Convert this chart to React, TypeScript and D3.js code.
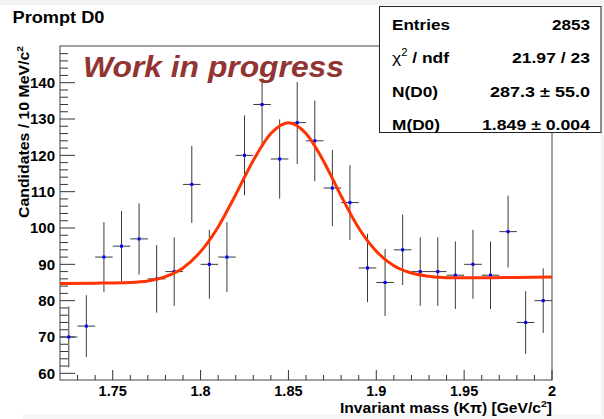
import React from "react";
import * as d3 from "d3";

// histogram bins (bin centres, 10 MeV wide)
const binCenters = [
  1.725, 1.735, 1.745, 1.755, 1.765, 1.775, 1.785, 1.795, 1.805, 1.815,
  1.825, 1.835, 1.845, 1.855, 1.865, 1.875, 1.885, 1.895, 1.905, 1.915,
  1.925, 1.935, 1.945, 1.955, 1.965, 1.975, 1.985, 1.995,
];
const counts = [
  70, 73, 92, 95, 97, 86, 88, 112, 90, 92,
  120, 134, 119, 129, 124, 111, 107, 89, 85, 94,
  88, 88, 87, 90, 87, 99, 74, 80,
];
const errors = [
  8.4, 8.5, 9.6, 9.7, 9.8, 9.3, 9.4, 10.6, 9.5, 9.6,
  11.0, 11.6, 10.9, 11.4, 11.1, 10.5, 10.3, 9.4, 9.2, 9.7,
  9.4, 9.4, 9.3, 9.5, 9.3, 9.9, 8.6, 8.9,
];
const binHalfWidth = 0.005;

// fit curve
const fitX = [
  1.72, 1.74, 1.76, 1.77, 1.78, 1.79, 1.8, 1.81, 1.82, 1.83, 1.84, 1.85,
  1.86, 1.87, 1.88, 1.89, 1.9, 1.91, 1.92, 1.93, 1.94, 1.96, 1.98, 2.0,
];
const fitY = [
  84.7, 84.8, 85.0, 85.4, 86.6, 89.0, 93.5, 100.3, 109.2, 118.6, 126.0, 129.0,
  126.0, 118.4, 108.8, 100.0, 93.6, 89.6, 87.6, 86.7, 86.3, 86.3, 86.4, 86.5,
];

const xTicks = [1.75, 1.8, 1.85, 1.9, 1.95, 2.0];
const xTickLabels = ["1.75", "1.8", "1.85", "1.9", "1.95", "2"];
const yTicks = [60, 70, 80, 90, 100, 110, 120, 130, 140];

const statValues = ["2853", "21.97 / 23", "287.3 ± 55.0", "1.849 ± 0.004"];

const FONT = "'Liberation Sans', Arial, Helvetica, sans-serif";

export default function App() {
  const W = 604, H = 419;
  const left = 60, right = 552, top = 46, bottom = 380;

  const x = d3.scaleLinear().domain([1.72, 2.0]).range([left, right]);
  const y = d3.scaleLinear().domain([58.16, 150.1]).range([bottom, top]);

  const xMinor = d3.range(173, 200).filter((v) => v % 5 !== 0).map((v) => v / 100);
  const yMinor = d3.range(60, 151, 2).filter((v) => v % 10 !== 0);

  const fitLine = d3
    .line<number>()
    .x((d, i) => x(fitX[i]))
    .y((d) => y(d))
    .curve(d3.curveMonotoneX);

  // stats rows: baseline, label width, value width (as in picture)
  const rowsY = [30, 63, 96.5, 130];
  const labelLen = [58, 57, 46, 48];
  const valueLen = [38, 78, 100, 108];

  return (
    <svg
      width={W}
      height={H}
      style={{ position: "absolute", left: 0, top: 0, background: "#fff" }}
      fontFamily={FONT}
    >
      {/* light borders of the screenshot */}
      <rect x={0} y={0} width={W} height={5} fill="#f2f2f2" />
      <rect x={601} y={0} width={3} height={H} fill="#f4f4f4" />
      <rect x={23} y={414} width={W - 23} height={5} fill="#f6f6f6" />

      {/* title */}
      <text x={12.5} y={23} fontSize={16} fontWeight="bold" fill="#000"
        textLength={92} lengthAdjust="spacingAndGlyphs">
        Prompt D0
      </text>

      {/* frame */}
      <rect x={left} y={top} width={right - left} height={bottom - top} fill="none" stroke="#444" strokeWidth={1} />

      {/* y ticks */}
      {yTicks.map((t) => (
        <g key={"ym" + t}>
          <line x1={left} x2={left + 15} y1={y(t)} y2={y(t)} stroke="#333" />
          <text x={55} y={y(t)} dy="0.36em" textAnchor="end" fontSize={15} fontWeight="bold">
            {t}
          </text>
        </g>
      ))}
      {yMinor.map((t) => (
        <line key={"yn" + t} x1={left} x2={left + 8} y1={y(t)} y2={y(t)} stroke="#333" />
      ))}

      {/* x ticks */}
      {xTicks.map((t, i) => (
        <g key={"xm" + t}>
          <line x1={x(t)} x2={x(t)} y1={bottom} y2={bottom - 10} stroke="#333" />
          <text x={x(t)} y={396} textAnchor="middle" fontSize={14.5} fontWeight="bold">
            {xTickLabels[i]}
          </text>
        </g>
      ))}
      {xMinor.map((t) => (
        <line key={"xn" + t} x1={x(t)} x2={x(t)} y1={bottom} y2={bottom - 5} stroke="#333" />
      ))}

      {/* axis titles */}
      <text x={552} y={412.5} textAnchor="end" fontSize={14} fontWeight="bold"
        textLength={212} lengthAdjust="spacingAndGlyphs">
        Invariant mass (Kπ) [GeV/c
        <tspan fontSize={9.5} dy={-6}>2</tspan>
        <tspan dy={6}>]</tspan>
      </text>
      <text
        transform="translate(28.5,46) rotate(-90)"
        textAnchor="end"
        fontSize={14.5}
        fontWeight="bold"
        textLength={172}
        lengthAdjust="spacingAndGlyphs"
      >
        Candidates / 10 MeV/c
        <tspan fontSize={9.5} dy={-6}>2</tspan>
      </text>

      {/* histogram points with errors */}
      {binCenters.map((c, i) => (
        <g key={"p" + i}>
          <line
            x1={x(c)}
            x2={x(c)}
            y1={y(counts[i] - errors[i])}
            y2={y(counts[i] + errors[i])}
            stroke="#3a3a3a"
          />
          <line
            x1={x(c - binHalfWidth)}
            x2={x(c + binHalfWidth)}
            y1={y(counts[i])}
            y2={y(counts[i])}
            stroke="#3a3a3a"
          />
          <rect x={x(c) - 1.5} y={y(counts[i]) - 1.5} width={3} height={3} fill="#0000ff" />
        </g>
      ))}

      {/* fit */}
      <path d={fitLine(fitY) || ""} fill="none" stroke="#ff3300" strokeWidth={3} />

      {/* label pave */}
      <rect x={78} y={47} width={272} height={35} fill="#fff" />
      <text x={83} y={77} fontSize={30} fontWeight="bold" fontStyle="italic" fill="#923434"
        textLength={261} lengthAdjust="spacingAndGlyphs">
        Work in progress
      </text>

      {/* stats box */}
      <rect x={379.5} y={6.5} width={221.5} height={126} fill="#fff" stroke="#222" strokeWidth={1} />
      <text x={392} y={rowsY[0]} fontSize={15.5} fontWeight="bold"
        textLength={labelLen[0]} lengthAdjust="spacingAndGlyphs">Entries</text>
      <text x={392} y={rowsY[1]} fontSize={15.5} fontWeight="bold"
        textLength={labelLen[1]} lengthAdjust="spacingAndGlyphs">
        <tspan fontWeight="normal">χ</tspan>
        <tspan fontSize={10} dy={-7} fontWeight="normal">2</tspan>
        <tspan dy={7}> / ndf</tspan>
      </text>
      <text x={392} y={rowsY[2]} fontSize={15.5} fontWeight="bold"
        textLength={labelLen[2]} lengthAdjust="spacingAndGlyphs">N(D0)</text>
      <text x={392} y={rowsY[3]} fontSize={15.5} fontWeight="bold"
        textLength={labelLen[3]} lengthAdjust="spacingAndGlyphs">M(D0)</text>
      {statValues.map((v, i) => (
        <text key={"sv" + i} x={590} y={rowsY[i]} textAnchor="end" fontSize={15.5} fontWeight="bold"
          textLength={valueLen[i]} lengthAdjust="spacingAndGlyphs">
          {v}
        </text>
      ))}
    </svg>
  );
}
